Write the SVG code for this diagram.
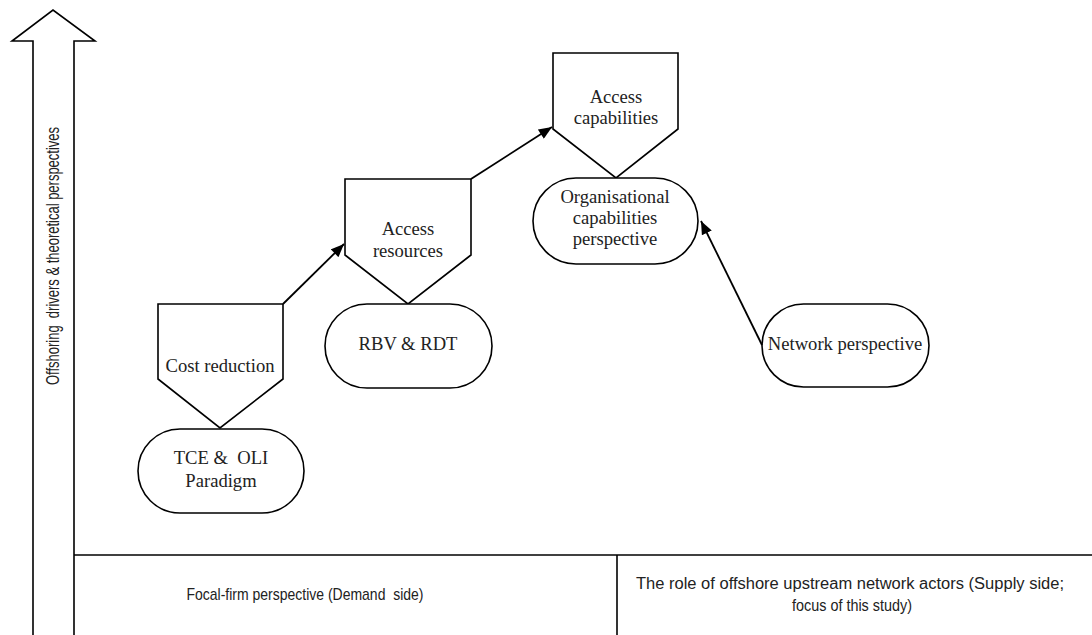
<svg xmlns="http://www.w3.org/2000/svg" width="1092" height="635" viewBox="0 0 1092 635">
<style>
.sh{fill:#fff;stroke:#000;stroke-width:1.6;stroke-linejoin:miter}
.ln{fill:none;stroke:#000;stroke-width:1.6}
.cn{fill:none;stroke:#000;stroke-width:1.8}
.t{font-family:"Liberation Serif",serif;font-size:18.6px;fill:#222;text-anchor:middle;white-space:pre}
.s{font-family:"Liberation Sans",sans-serif;font-size:17px;fill:#222;text-anchor:middle;white-space:pre}
</style>
<defs>
<marker id="ah2" viewBox="0 0 12 10" refX="12" refY="5" markerWidth="14" markerHeight="11" markerUnits="userSpaceOnUse" orient="auto">
<path d="M0,0 L12,5 L0,10 z" fill="#000"/>
</marker>
</defs>
<rect width="1092" height="635" fill="#fff"/>
<g id="axis">
<path class="sh" d="M33,635 L33,41 L12,41 L53,10 L95,41 L74,41 L74,635"/>
<text class="s" transform="translate(59,256) rotate(-90)" style="font-size:18px" textLength="258" lengthAdjust="spacingAndGlyphs">Offshoring  drivers &amp; theoretical perspectives</text>
</g>
<g id="table">
<line class="ln" x1="74" y1="555" x2="1092" y2="555"/>
<line class="ln" x1="617" y1="555" x2="617" y2="635"/>
<text class="s" x="305" y="600" textLength="237" lengthAdjust="spacingAndGlyphs">Focal-firm perspective (Demand  side)</text>
<text class="s" x="850" y="589" style="font-size:16px" textLength="428" lengthAdjust="spacingAndGlyphs">The role of offshore upstream network actors (Supply side;</text>
<text class="s" x="852" y="611" textLength="120" lengthAdjust="spacingAndGlyphs">focus of this study)</text>
</g>
<g id="cost">
<path class="sh" d="M158,304 L283,304 L283,379 L220,428 L158,379 Z"/>
<text class="t" x="220" y="372">Cost reduction</text>
</g>
<g id="tce">
<rect class="sh" x="138" y="429" width="166" height="84" rx="42"/>
<text class="t" x="221" y="464">TCE &amp;  OLI</text>
<text class="t" x="221" y="487">Paradigm</text>
</g>
<g id="res">
<path class="sh" d="M345,179 L471,179 L471,255 L408,304 L345,255 Z"/>
<text class="t" x="408" y="235">Access</text>
<text class="t" x="408" y="257">resources</text>
</g>
<g id="rbv">
<rect class="sh" x="325" y="304" width="167" height="84" rx="42"/>
<text class="t" x="408" y="350">RBV &amp; RDT</text>
</g>
<g id="cap">
<path class="sh" d="M553,53 L678,53 L678,129 L616,178 L553,129 Z"/>
<text class="t" x="616" y="103">Access</text>
<text class="t" x="616" y="124">capabilities</text>
</g>
<g id="org">
<rect class="sh" x="533" y="178" width="165" height="86" rx="43"/>
<text class="t" x="615" y="203">Organisational</text>
<text class="t" x="615" y="224">capabilities</text>
<text class="t" x="615" y="245">perspective</text>
</g>
<g id="net">
<rect class="sh" x="762" y="304" width="167" height="83" rx="41.5"/>
<text class="t" x="845" y="350">Network perspective</text>
</g>
<g id="connectors">
<line class="cn" x1="283" y1="304" x2="344" y2="244" marker-end="url(#ah2)"/>
<line class="cn" x1="471" y1="179" x2="552" y2="127" marker-end="url(#ah2)"/>
<line class="cn" x1="762" y1="345" x2="701" y2="221" marker-end="url(#ah2)"/>
</g>
</svg>
